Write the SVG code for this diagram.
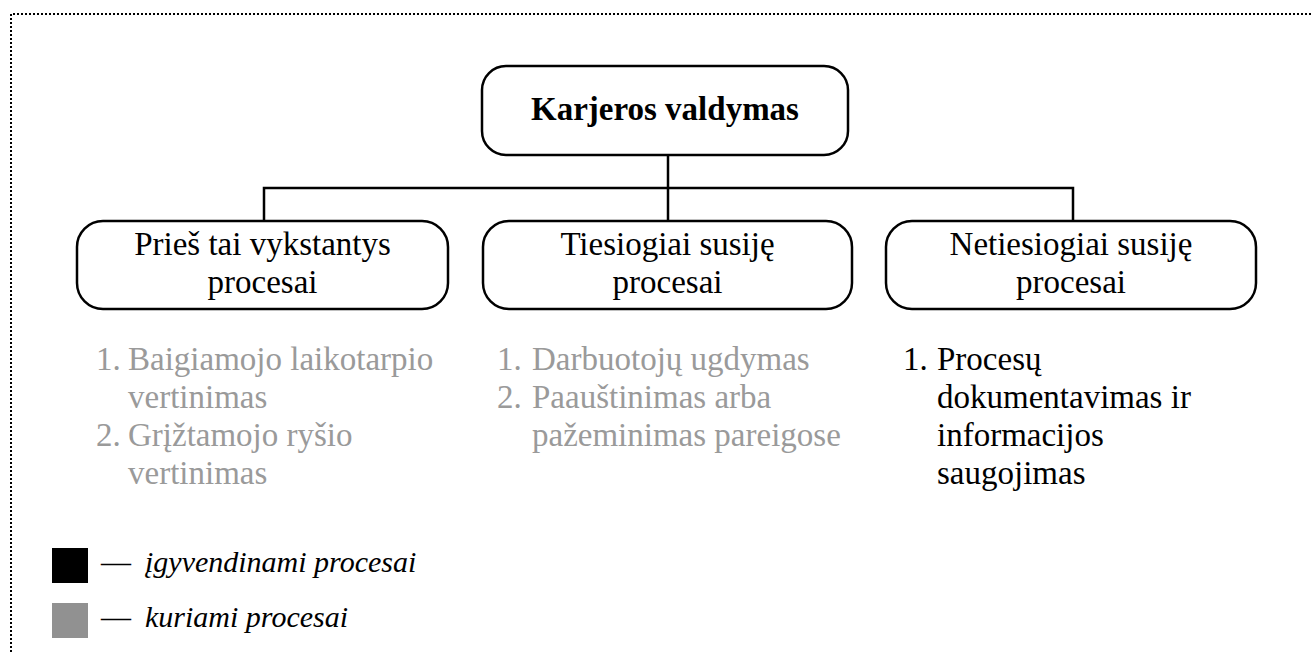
<svg xmlns="http://www.w3.org/2000/svg" width="1313" height="654" viewBox="0 0 1313 654">
  <style>
    .box { fill: #ffffff; stroke: #000000; stroke-width: 2.5; }
    .conn { fill: none; stroke: #000000; stroke-width: 2.5; }
    .frame { fill: none; stroke: #000000; stroke-width: 2; stroke-dasharray: 2 2; }
    text { font-family: "Liberation Serif", "Times New Roman", serif; }
    .title { font-size: 33px; font-weight: bold; text-anchor: middle; fill: #000; }
    .head { font-size: 33px; text-anchor: middle; fill: #000; }
    .item { font-size: 33px; }
    .grey { fill: #9a9a9a; }
    .black { fill: #000000; }
    .legend { font-size: 30px; font-style: italic; fill: #000; }
    .dash { font-size: 30px; fill: #000; }
  </style>

  <rect x="0" y="0" width="1313" height="654" fill="#ffffff"/>
  <!-- dotted frame -->
  <path class="frame" d="M11,660 V14 H1320"/>

  <!-- connectors -->
  <g id="connectors">
    <path class="conn" d="M668,155 V188"/>
    <path class="conn" d="M264,221 V188 H1073 V221"/>
    <path class="conn" d="M668,188 V221"/>
  </g>

  <g id="root">
    <rect class="box" x="482" y="66" width="366" height="89" rx="24"/>
    <text class="title" x="665" y="120">Karjeros valdymas</text>
  </g>

  <g id="before">
    <rect class="box" x="77" y="221" width="371" height="88" rx="26"/>
    <text class="head" x="262.5" y="255">Prieš tai vykstantys</text>
    <text class="head" x="262.5" y="293">procesai</text>
  </g>

  <g id="direct">
    <rect class="box" x="483" y="221" width="369" height="88" rx="26"/>
    <text class="head" x="667.5" y="255">Tiesiogiai susiję</text>
    <text class="head" x="667.5" y="293">procesai</text>
  </g>

  <g id="indirect">
    <rect class="box" x="886" y="221" width="370" height="88" rx="26"/>
    <text class="head" x="1071" y="255">Netiesiogiai susiję</text>
    <text class="head" x="1071" y="293">procesai</text>
  </g>

  <g id="before-list" class="item grey">
    <text x="96" y="370">1.</text><text x="128" y="370">Baigiamojo laikotarpio</text>
    <text x="128" y="408">vertinimas</text>
    <text x="96" y="446">2.</text><text x="128" y="446">Grįžtamojo ryšio</text>
    <text x="128" y="484">vertinimas</text>
  </g>

  <g id="direct-list" class="item grey">
    <text x="497" y="370">1.</text><text x="532" y="370">Darbuotojų ugdymas</text>
    <text x="497" y="408">2.</text><text x="532" y="408">Paauštinimas arba</text>
    <text x="532" y="446">pažeminimas pareigose</text>
  </g>

  <g id="indirect-list" class="item black">
    <text x="903" y="370">1.</text><text x="937" y="370">Procesų</text>
    <text x="937" y="408">dokumentavimas ir</text>
    <text x="937" y="446">informacijos</text>
    <text x="937" y="484">saugojimas</text>
  </g>

  <g id="legend">
    <rect x="52" y="548" width="36" height="35" fill="#000000"/>
    <text class="dash" x="101" y="572">—</text>
    <text class="legend" x="145" y="572">įgyvendinami procesai</text>
    <rect x="52" y="603" width="36" height="35" fill="#919191"/>
    <text class="dash" x="101" y="627">—</text>
    <text class="legend" x="145" y="627">kuriami procesai</text>
  </g>
</svg>
